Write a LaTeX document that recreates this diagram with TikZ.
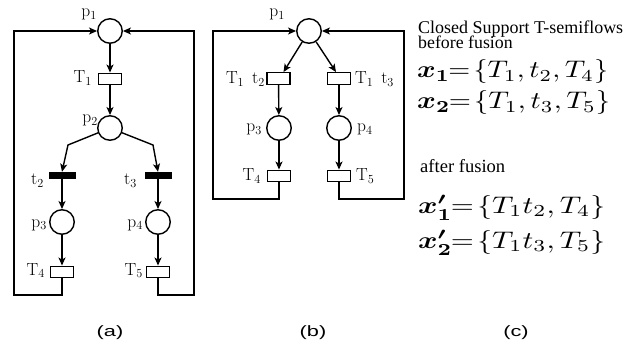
\RequirePackage{fix-cm}
\documentclass[tikz,border=0pt]{standalone}
\usepackage{amsmath}
\usepackage{graphicx}
\usepackage[no-math]{fontspec}
\newfontfamily\timesf{Liberation Serif}
\newfontfamily\arialf{Liberation Sans}
\usetikzlibrary{arrows.meta,calc}
\begin{document}
\begin{tikzpicture}[x=1pt,y=-1pt,
 place/.style={circle,draw,line width=1.4pt,minimum size=24.5pt,inner sep=0pt,fill=white},
 trans/.style={rectangle,draw,line width=1.4pt,minimum width=23pt,minimum height=11.5pt,inner sep=0pt,fill=white},
 bar/.style={rectangle,fill=black,minimum width=27pt,minimum height=7pt,inner sep=0pt},
 arc/.style={line width=1.4pt,-{Stealth[length=8pt,width=7pt,inset=2pt]}},
 lab/.style={inner sep=0pt,font=\fontsize{17.5}{20}\selectfont},
 txt/.style={inner sep=0pt,anchor=base west,font=\timesf\fontsize{17.8}{15}\selectfont},
 eq/.style={inner sep=0pt,anchor=base west},
 capt/.style={inner sep=0pt,font=\arialf\fontsize{15}{17}\selectfont}]
\useasboundingbox (0,0) rectangle (632,350);
% ---------- (a)
\node[place] (p1a) at (110,31) {};
\node[trans] (T1a) at (110,79) {};
\node[place] (p2a) at (110,128) {};
\coordinate (ba) at (68,145);
\coordinate (ca) at (153,145);
\node[bar] (t2a) at (62,175.5) {};
\node[bar] (t3a) at (158,175.5) {};
\node[place] (p3a) at (62,222) {};
\node[place] (p4a) at (158,222) {};
\node[trans] (T4a) at (62,272) {};
\node[trans] (T5a) at (158,272) {};
\coordinate (la) at (14,295); \coordinate (lta) at (14,31);
\coordinate (ra) at (194,295); \coordinate (rta) at (194,31);
\draw[arc] (p1a) -- (T1a);
\draw[arc] (T1a) -- (p2a);
\draw[arc] (p2a) -- (ba) -- (t2a.north);
\draw[arc] (p2a) -- (ca) -- (t3a.north);
\draw[arc] (t2a) -- (p3a);
\draw[arc] (t3a) -- (p4a);
\draw[arc] (p3a) -- (T4a);
\draw[arc] (p4a) -- (T5a);
\draw[arc] (T4a.south) -- (T4a.south |- la) -- (la) -- (lta) -- (p1a);
\draw[arc] (T5a.south) -- (T5a.south |- ra) -- (ra) -- (rta) -- (p1a);
\node[lab,anchor=base east] (lp1a) at (97,17) {p$_1$};
\node[lab,anchor=base east] (lT1a) at (92,83) {T$_1$};
\node[lab,anchor=base east] (lp2a) at (98,123) {p$_2$};
\node[lab,anchor=base east] (lt2a) at (44,185) {t$_2$};
\node[lab,anchor=base east] (lt3a) at (137,185) {t$_3$};
\node[lab,anchor=base east] (lp3a) at (47,227) {p$_3$};
\node[lab,anchor=base east] (lp4a) at (143,227) {p$_4$};
\node[lab,anchor=base east] (lT4a) at (45,275) {T$_4$};
\node[lab,anchor=base east] (lT5a) at (143,275) {T$_5$};
% ---------- (b)
\node[place] (p1b) at (309,31) {};
\node[trans] (Ab) at (278.5,78.5) {};
\node[trans] (Bb) at (339,78.5) {};
\node[place] (p3b) at (279,128) {};
\node[place] (p4b) at (339,128) {};
\node[trans] (T4b) at (279,176) {};
\node[trans] (T5b) at (339,176) {};
\coordinate (lb) at (213,199); \coordinate (ltb) at (213,31);
\coordinate (rb) at (404,199); \coordinate (rtb) at (404,31);
\draw[arc] (p1b) -- ($(Ab.north)+(5,0)$);
\draw[arc] (p1b) -- ($(Bb.north)+(-3,0)$);
\draw[arc] (Ab) -- (p3b);
\draw[arc] (Bb) -- (p4b);
\draw[arc] (p3b) -- (T4b);
\draw[arc] (p4b) -- (T5b);
\draw[arc] (T4b.south) -- (T4b.south |- lb) -- (lb) -- (ltb) -- (p1b);
\draw[arc] (T5b.south) -- (T5b.south |- rb) -- (rb) -- (rtb) -- (p1b);
\node[lab,anchor=base east] (lp1b) at (285,17) {p$_1$};
\node[lab,anchor=base east] (lAb) at (265,84) {T$_1$\hspace{0.45em}t$_2$};
\node[lab,anchor=base west] (lBb) at (355,84) {T$_1$\hspace{0.45em}t$_3$};
\node[lab,anchor=base east] (lp3b) at (262,132) {p$_3$};
\node[lab,anchor=base west] (lp4b) at (357,132) {p$_4$};
\node[lab,anchor=base east] (lT4b) at (261,181) {T$_4$};
\node[lab,anchor=base west] (lT5b) at (356,181) {T$_5$};
% ---------- (c)
\node[txt] (c1) at (418,34) {\resizebox{205pt}{!}{Closed Support T-semiflows}};
\node[txt] (c2) at (418,49) {\resizebox{94.5pt}{!}{before fusion}};
\node[eq] (e1) at (417,77.5) {\resizebox{191pt}{2.4\height}{$\boldsymbol{x_1}\!\!=\!\{T_1,t_2,T_4\}$}};
\node[eq] (e2) at (417,108.5) {\resizebox{193pt}{2.4\height}{$\boldsymbol{x_2}\!\!=\!\{T_1,t_3,T_5\}$}};
\node[txt] (c3) at (420,173) {\resizebox{85pt}{!}{after fusion}};
\node[eq] (e3) at (418,213) {\resizebox{187pt}{2.4\height}{$\boldsymbol{x'_1}\!\!=\!\{T_1t_2,T_4\}$}};
\node[eq] (e4) at (418,248) {\resizebox{187pt}{2.4\height}{$\boldsymbol{x'_2}\!\!=\!\{T_1t_3,T_5\}$}};
% ---------- captions
\node[capt] (capa) at (110,333) {\scalebox{1.45}[1]{(a)}};
\node[capt] (capb) at (313,333) {\scalebox{1.45}[1]{(b)}};
\node[capt] (capc) at (516,333) {\scalebox{1.45}[1]{(c)}};
\end{tikzpicture}
\end{document}
